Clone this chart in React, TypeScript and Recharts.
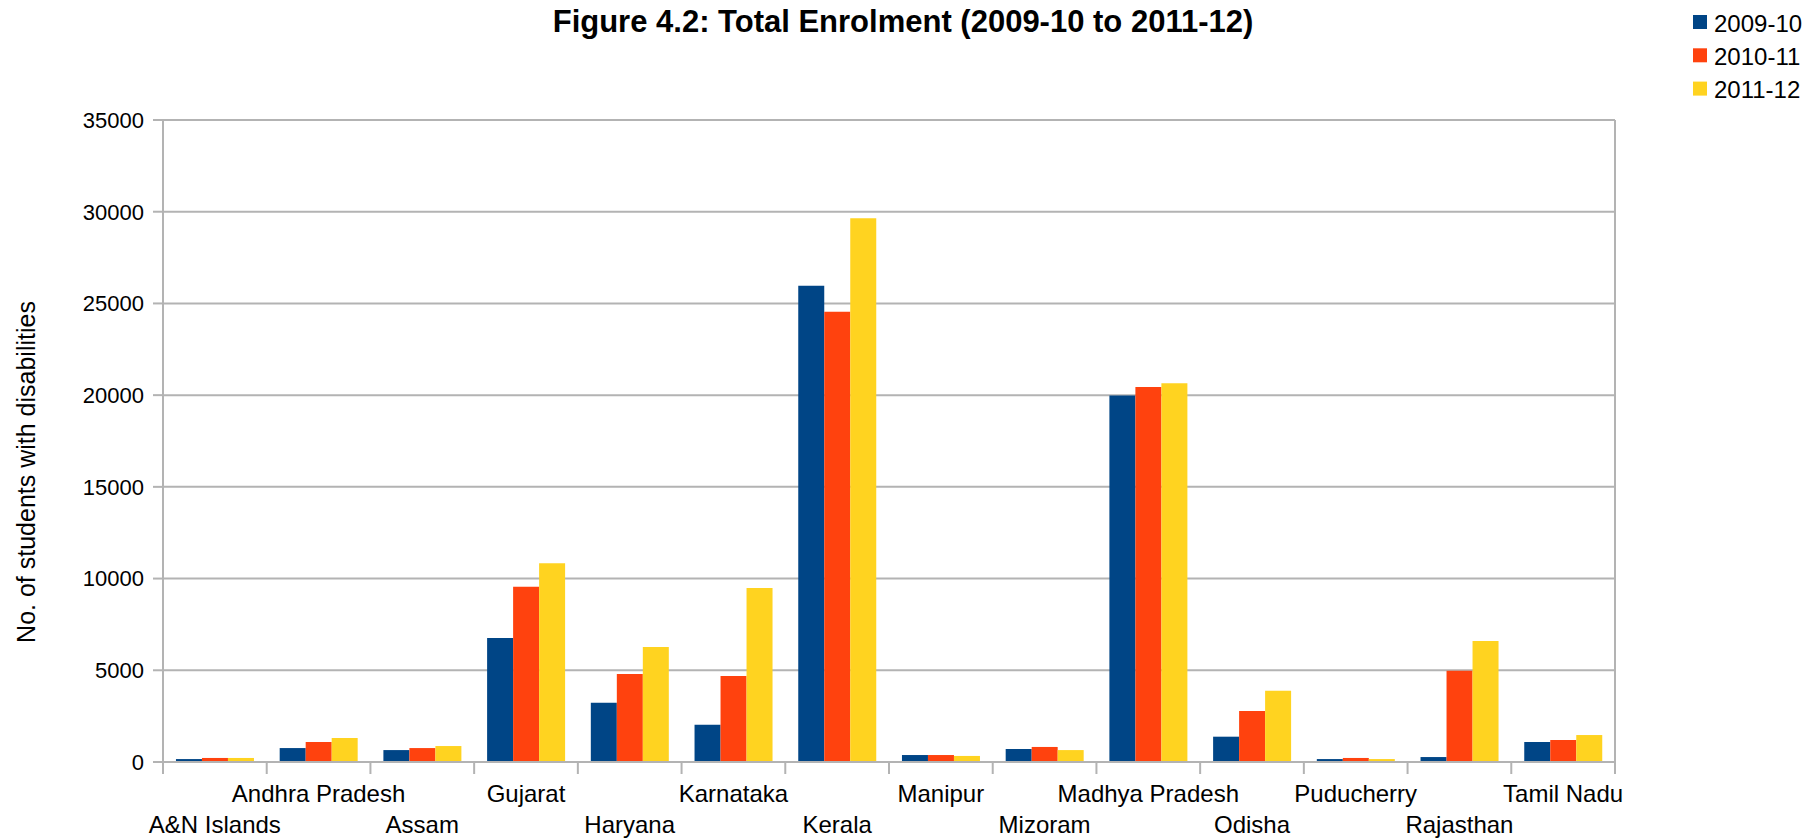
import React from "react";
import { BarChart, Bar, XAxis, YAxis, CartesianGrid } from "recharts";

const categories = [
  "A&N Islands",
  "Andhra Pradesh",
  "Assam",
  "Gujarat",
  "Haryana",
  "Karnataka",
  "Kerala",
  "Manipur",
  "Mizoram",
  "Madhya Pradesh",
  "Odisha",
  "Puducherry",
  "Rajasthan",
  "Tamil Nadu",
];

const enrol2009 = [160, 760, 650, 6760, 3230, 2030, 25960, 380, 710, 19980, 1380, 160, 270, 1090];
const enrol2010 = [220, 1090, 760, 9550, 4800, 4690, 24550, 380, 820, 20440, 2780, 220, 4970, 1200];
const enrol2011 = [220, 1310, 870, 10830, 6270, 9480, 29640, 330, 650, 20650, 3880, 160, 6600, 1470];

const yTicks = [0, 5000, 10000, 15000, 20000, 25000, 30000, 35000];

const series = [
  { key: "y2009", name: "2009-10", color: "#004586", values: enrol2009 },
  { key: "y2010", name: "2010-11", color: "#ff420e", values: enrol2010 },
  { key: "y2011", name: "2011-12", color: "#ffd320", values: enrol2011 },
];

const data = categories.map((name, i) => {
  const row: Record<string, string | number> = { name };
  series.forEach((s) => {
    row[s.key] = s.values[i];
  });
  return row;
});

const W = 1795;
const H = 832;
const GRID = "#b3b3b3";
const FONT = "'Liberation Sans', Arial, sans-serif";
const MARGIN = { top: 112, right: 188, left: 75, bottom: 0 };
const YAXIS_W = 80;
const XAXIS_H = 78;
const BAND = (W - MARGIN.left - YAXIS_W - MARGIN.right) / categories.length;

const CategoryTick = (props: any) => {
  const { x, y, payload, index } = props;
  const half = payload && typeof payload.offset === "number" && payload.offset > 0 ? payload.offset : BAND / 2;
  const upper = index % 2 === 1;
  return (
    <g>
      <line x1={x - half} x2={x - half} y1={y} y2={y + 12} stroke={GRID} strokeWidth={2} />
      {index === categories.length - 1 && (
        <line x1={x + half} x2={x + half} y1={y} y2={y + 12} stroke={GRID} strokeWidth={2} />
      )}
      <text
        x={x}
        y={y + (upper ? 40 : 71)}
        textAnchor="middle"
        fontSize={24}
        fontFamily={FONT}
        fill="#000"
      >
        {payload.value}
      </text>
    </g>
  );
};

export default function App() {
  return (
    <div style={{ position: "relative", width: W, height: H, background: "#fff" }}>
      <BarChart
        width={W}
        height={H}
        data={data}
        margin={MARGIN}
        barCategoryGap="12.5%"
        barGap={0}
      >
        <CartesianGrid
          stroke={GRID}
          strokeWidth={2}
          horizontal={true}
          vertical={true}
          verticalCoordinatesGenerator={(p: any) => [p.offset.left + p.offset.width]}
        />
        <XAxis
          dataKey="name"
          interval={0}
          height={XAXIS_H}
          tickSize={0}
          tickMargin={0}
          tickLine={false}
          axisLine={{ stroke: GRID, strokeWidth: 2 }}
          tick={<CategoryTick />}
        />
        <YAxis
          width={YAXIS_W}
          domain={[0, 35000]}
          ticks={yTicks}
          interval={0}
          tickSize={10}
          tickMargin={9}
          axisLine={{ stroke: GRID, strokeWidth: 2 }}
          tickLine={{ stroke: GRID, strokeWidth: 2 }}
          tick={{ fontSize: 22, fontFamily: FONT, fill: "#000" }}
        />
        {series.map((s) => (
          <Bar key={s.key} dataKey={s.key} name={s.name} fill={s.color} isAnimationActive={false} />
        ))}
      </BarChart>
      <svg
        width={1811}
        height={840}
        style={{ position: "absolute", left: -8, top: -8, pointerEvents: "none" }}
      >
        <text
          x={903}
          y={32}
          textAnchor="middle"
          fontSize={31}
          fontWeight="bold"
          fontFamily={FONT}
          fill="#000"
        >
          Figure 4.2: Total Enrolment (2009-10 to 2011-12)
        </text>
        <text
          x={26}
          y={472}
          transform="rotate(-90 26 472)"
          textAnchor="middle"
          dominantBaseline="central"
          fontSize={25}
          fontFamily={FONT}
          fill="#000"
        >
          No. of students with disabilities
        </text>
        {series.map((s, i) => (
          <g key={s.key}>
            <rect x={1693} y={15 + i * 33.3} width={14} height={14} fill={s.color} />
            <text x={1714} y={31.5 + i * 33.3} fontSize={24} fontFamily={FONT} fill="#000">
              {s.name}
            </text>
          </g>
        ))}
      </svg>
    </div>
  );
}
